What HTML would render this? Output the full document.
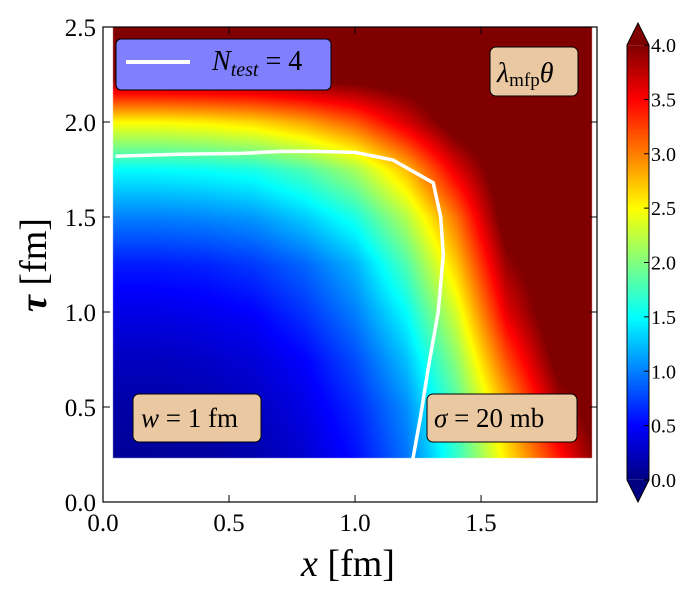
<!DOCTYPE html>
<html><head><meta charset="utf-8"><style>
body{margin:0;background:#fff;width:692px;height:592px;overflow:hidden;font-family:"Liberation Serif",serif}
</style></head><body>
<div style="position:relative;width:692px;height:592px">
<canvas id="hm" width="692" height="592" style="position:absolute;left:0;top:0"></canvas>
<svg id="sv" width="692" height="592" style="position:absolute;left:0;top:0"></svg>
</div>
<script>
// data
const xTicks=[0.0,0.5,1.0,1.5];
const yTicks=[0.0,0.5,1.0,1.5,2.0,2.5];
const cbTicks=[0.0,0.5,1.0,1.5,2.0,2.5,3.0,3.5,4.0];
const gridX=[0.0,0.2,0.4,0.6,0.8,1.0,1.2,1.4,1.6,1.8,2.0];
const gridY=[0.25,0.5,0.75,1.0,1.25,1.5,1.75,2.0,2.25,2.5];
const gridV=[
[0.1,0.1,0.12,0.18,0.32,0.55,0.95,1.7,2.6,3.4,4.2],
[0.15,0.15,0.18,0.25,0.4,0.65,1.05,1.8,2.8,3.8,4.3],
[0.25,0.25,0.28,0.35,0.5,0.8,1.25,2.05,3.2,4.1,4.3],
[0.4,0.4,0.43,0.5,0.7,1.0,1.5,2.35,3.6,4.3,4.3],
[0.6,0.6,0.63,0.72,0.9,1.2,1.8,2.7,3.9,4.3,4.3],
[1.0,1.0,1.03,1.1,1.3,1.6,2.2,3.05,4.2,4.3,4.3],
[1.5,1.5,1.53,1.6,1.8,2.15,2.75,3.6,4.3,4.3,4.3],
[2.5,2.5,2.55,2.65,2.85,3.15,3.65,4.2,4.3,4.3,4.3],
[4.1,4.1,4.1,4.1,4.15,4.2,4.25,4.3,4.3,4.3,4.3],
[4.3,4.3,4.3,4.3,4.3,4.3,4.3,4.3,4.3,4.3,4.3]];
const contourX=[0.05,0.3,0.55,0.7,0.85,1.0,1.15,1.31,1.34,1.35,1.33,1.29,1.26,1.23];
const contourY=[1.82,1.83,1.835,1.845,1.845,1.84,1.8,1.68,1.5,1.3,1.0,0.7,0.45,0.23];
const extent={x0:0.04,x1:1.94,y0:0.23,y1:2.5};

const L=103,R=597,T=27,B=502,X1=1.96,Y1=2.5;
const sx=v=>L+v/X1*(R-L), sy=v=>B-v/Y1*(B-T);
function jet(t){t=Math.max(0,Math.min(1,t));const c=x=>Math.round(255*Math.max(0,Math.min(1,1.5-Math.abs(4*t-x))));return [c(3),c(2),c(1)];}
function interp(x,y){
  let i=0;while(i<gridX.length-2&&x>gridX[i+1])i++;
  let j=0;while(j<gridY.length-2&&y>gridY[j+1])j++;
  let tx=(x-gridX[i])/(gridX[i+1]-gridX[i]),ty=(y-gridY[j])/(gridY[j+1]-gridY[j]);
  tx=Math.max(0,Math.min(1,tx));ty=Math.max(0,Math.min(1,ty));
  const a=gridV[j][i],b=gridV[j][i+1],c=gridV[j+1][i],d=gridV[j+1][i+1];
  return (a*(1-tx)+b*tx)*(1-ty)+(c*(1-tx)+d*tx)*ty;
}
const cv=document.getElementById('hm'),ctx=cv.getContext('2d');
const px0=Math.round(sx(extent.x0)),px1=Math.round(sx(extent.x1)),py0=Math.round(sy(extent.y1)),py1=Math.round(sy(extent.y0));
const img=ctx.createImageData(px1-px0,py1-py0);
for(let py=py0;py<py1;py++)for(let px=px0;px<px1;px++){
  const x=(px-L)/(R-L)*X1,y=(B-py)/(B-T)*Y1;
  const [r,g,b]=jet(interp(x,y)/4);
  const k=((py-py0)*(px1-px0)+(px-px0))*4;img.data[k]=r;img.data[k+1]=g;img.data[k+2]=b;img.data[k+3]=255;
}
ctx.putImageData(img,px0,py0);
// colorbar
const CL=627,CR=649,CT=45,CB=480;
const cimg=ctx.createImageData(CR-CL,CB-CT);
for(let py=CT;py<CB;py++){const [r,g,b]=jet((CB-py)/(CB-CT));for(let px=0;px<CR-CL;px++){const k=((py-CT)*(CR-CL)+px)*4;cimg.data[k]=r;cimg.data[k+1]=g;cimg.data[k+2]=b;cimg.data[k+3]=255;}}
ctx.putImageData(cimg,CL,CT);

const sv=document.getElementById('sv'),NS='http://www.w3.org/2000/svg';
function el(tag,attrs,parent){const e=document.createElementNS(NS,tag);for(const k in attrs)e.setAttribute(k,attrs[k]);(parent||sv).appendChild(e);return e;}
// contour
let d=contourX.map((x,i)=>(i?'L':'M')+sx(x).toFixed(1)+','+sy(contourY[i]).toFixed(1)).join('');
const cl=el('path',{d:d,fill:'none',stroke:'#fff','stroke-width':3.5});


// frame
const fr=el('rect',{x:L,y:T,width:R-L,height:B-T,fill:'none',stroke:'#000','stroke-width':1.2});


xTicks.forEach(v=>{const x=sx(v);
  el('line',{x1:x,x2:x,y1:B,y2:B-7,stroke:'#000'});el('line',{x1:x,x2:x,y1:T,y2:T+7,stroke:'#000'});
  const t=el('text',{x:x,y:B+29,'text-anchor':'middle','font-size':25});t.textContent=v.toFixed(1);
  
  
});
yTicks.forEach(v=>{const y=sy(v);
  el('line',{x1:L,x2:L+7,y1:y,y2:y,stroke:'#000'});el('line',{x1:R,x2:R-7,y1:y,y2:y,stroke:'#000'});
  const t=el('text',{x:L-7,y:y+9,'text-anchor':'end','font-size':25});t.textContent=v.toFixed(1);
  
  
});
// colorbar triangles + outline
el('polygon',{points:`${CL},${CT} ${(CL+CR)/2},23 ${CR},${CT}`,fill:'#800000'});
el('polygon',{points:`${CL},${CB} ${(CL+CR)/2},502 ${CR},${CB}`,fill:'#000080'});
const cbo=el('polygon',{points:`${CL},${CT} ${(CL+CR)/2},23 ${CR},${CT} ${CR},${CB} ${(CL+CR)/2},502 ${CL},${CB}`,fill:'none',stroke:'#000'});


cbTicks.forEach(v=>{const y=CB-v/4*(CB-CT);
  el('line',{x1:CR-5,x2:CR,y1:y,y2:y,stroke:'#000'});
  const t=el('text',{x:CR+2,y:y+7,'font-size':20});t.textContent=v.toFixed(1);
  
  
});
</script>
<svg width="692" height="592" style="position:absolute;left:0;top:0">
<g font-family="Liberation Serif,serif">
<text x="348" y="576" text-anchor="middle" font-size="38"><tspan font-style="italic">x</tspan> [fm]</text>
<text transform="translate(46,265) rotate(-90)" text-anchor="middle" font-size="38"><tspan font-style="italic" font-weight="bold">τ</tspan> [fm]</text>
<g>
<rect x="116" y="39" width="215" height="51" rx="5" fill="#8080ff" stroke="#000"/>
<line x1="126" y1="62" x2="190" y2="62" stroke="#fff" stroke-width="4"/>
<text x="212" y="70" font-size="28"><tspan font-style="italic">N</tspan><tspan font-style="italic" font-size="20" dy="6">test</tspan><tspan dy="-6"> = 4</tspan></text>
</g>
<g>
<rect x="490" y="47" width="88" height="49" rx="6" fill="#eac9a2" stroke="#000"/>
<text x="497" y="82" font-size="28"><tspan font-style="italic">λ</tspan><tspan font-size="19" dy="4">mfp</tspan><tspan dy="-4" font-style="italic">θ</tspan></text>
</g>
<g>
<rect x="133" y="394" width="128" height="48" rx="6" fill="#eac9a2" stroke="#000"/>
<text x="141" y="427" font-size="27"><tspan font-style="italic">w</tspan> = 1 fm</text>
</g>
<g>
<rect x="427" y="394" width="150" height="48" rx="6" fill="#eac9a2" stroke="#000"/>
<text x="434" y="427" font-size="27"><tspan font-style="italic">σ</tspan> = 20 mb</text>
</g>
</g></svg>
</body></html>
